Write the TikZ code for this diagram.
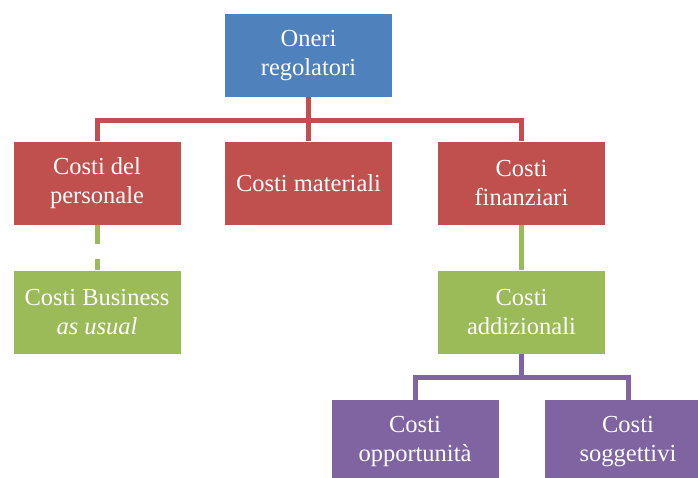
\documentclass[tikz,border=0pt]{standalone}
\usepackage{fontspec}
\setmainfont{Liberation Serif}
\definecolor{blu}{HTML}{4F81BD}
\definecolor{rosso}{HTML}{C0504D}
\definecolor{verde}{HTML}{9BBB59}
\definecolor{viola}{HTML}{8064A2}
\tikzset{
  box/.style={rectangle, minimum width=167pt, minimum height=83pt, inner sep=0pt,
    text=white, align=center, font=\fontsize{24.5}{29.5}\selectfont},
  link/.style={line width=5pt}
}
\begin{document}
\begin{tikzpicture}[x=1pt, y=-1pt]
\useasboundingbox (0,0) rectangle (698,477);
\clip (0,0) rectangle (698,477);
\node[box, fill=blu] (oneri) at (308.5,55.5){Oneri\\regolatori};
\node[box, fill=rosso] (pers) at (97,183){Costi del\\personale};
\node[box, fill=rosso] (mat) at (308.5,183){Costi materiali};
\node[box, fill=rosso] (fin) at (521.5,183){Costi\\finanziari};
\node[box, fill=verde] (bus) at (97,312){Costi Business\\\textit{as usual}};
\node[box, fill=verde] (add) at (521.5,312){Costi\\addizionali};
\node[box, fill=viola] (opp) at (415,441.5){Costi\\opportunità};
\node[box, fill=viola] (sog) at (628,441.5){Costi\\soggettivi};
\coordinate (rj) at (308.5,120);
\coordinate (vj) at (521.5,377);
\draw[link, rosso](oneri) -- (rj);
\draw[link, rosso](rj) -| (pers);
\draw[link, rosso](rj) -- (mat);
\draw[link, rosso](rj) -| (fin);
\draw[link, verde, dash pattern=on 19pt off 15pt](pers) -- (bus);
\draw[link, verde](fin) -- (add);
\draw[link, viola](add) -- (vj);
\draw[link, viola](vj) -| (opp);
\draw[link, viola](vj) -| (sog);
\end{tikzpicture}
\end{document}
